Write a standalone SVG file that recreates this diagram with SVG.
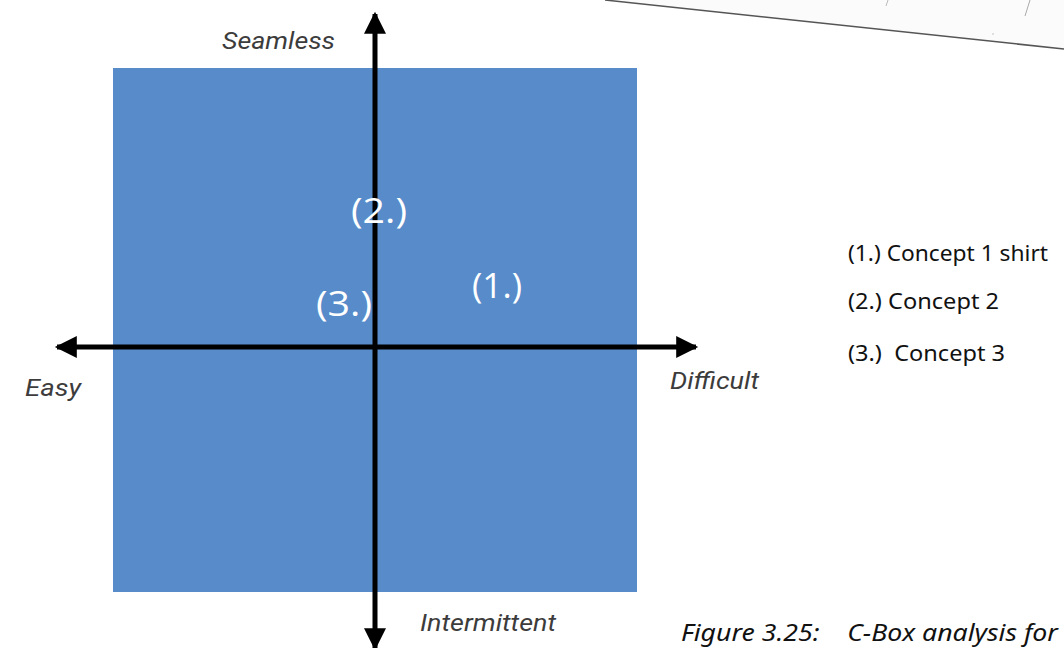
<svg xmlns="http://www.w3.org/2000/svg" width="1064" height="648" viewBox="0 0 1064 648">
  <style>
    .axis { stroke: #000; stroke-width: 5; fill: none; }
    .pole { font-family: Roboto, "Liberation Sans", sans-serif; font-style: italic; font-size: 23px; fill: #3c3c3c; }
    .mark { font-family: "Open Sans", "Liberation Sans", sans-serif; font-size: 34px; fill: #ffffff; }
    .legend { font-family: "Noto Sans", "Liberation Sans", sans-serif; font-size: 21px; fill: #111; }
    .caption { font-family: "Noto Sans", "Liberation Sans", sans-serif; font-style: italic; font-size: 24px; fill: #111; }
  </style>
  <defs>
    <marker id="head" viewBox="0 0 10 10" refX="9" refY="5" markerWidth="5.6" markerHeight="4.4" markerUnits="strokeWidth" orient="auto">
      <path d="M0,0 L10,5 L0,10 Z" fill="#000"/>
    </marker>
  </defs>
  <rect width="1064" height="648" fill="#ffffff"/>

  <!-- page edge in the corner -->
  <g id="page-corner">
    <path d="M605,0 L1064,49 L1064,0 Z" fill="#fbfbfb"/>
    <line x1="605" y1="0" x2="1064" y2="49" stroke="#555" stroke-width="1.5"/>
    <line x1="888" y1="0" x2="886" y2="6" stroke="#bbb" stroke-width="1"/>
    <line x1="1030" y1="0" x2="1025" y2="16" stroke="#aaa" stroke-width="1"/>
    <circle cx="993" cy="34" r="0.8" fill="#bbb"/>
  </g>

  <!-- quadrant field -->
  <g id="field">
    <rect x="113" y="68" width="524" height="524" fill="#578bca"/>
  </g>

  <!-- axes -->
  <g id="connectors">
    <line class="axis" x1="375" y1="347" x2="375" y2="14" marker-end="url(#head)"/>
    <line class="axis" x1="375" y1="347" x2="375" y2="648" marker-end="url(#head)"/>
    <line class="axis" x1="375" y1="347" x2="57" y2="347" marker-end="url(#head)"/>
    <line class="axis" x1="375" y1="347" x2="696" y2="347" marker-end="url(#head)"/>
  </g>

  <!-- axis poles -->
  <g id="seamless"><text class="pole" x="222" y="49" textLength="113" lengthAdjust="spacingAndGlyphs">Seamless</text></g>
  <g id="easy"><text class="pole" x="25" y="396" textLength="56" lengthAdjust="spacingAndGlyphs">Easy</text></g>
  <g id="difficult"><text class="pole" x="670" y="389" textLength="89" lengthAdjust="spacingAndGlyphs">Difficult</text></g>
  <g id="intermittent"><text class="pole" x="420" y="631" textLength="136" lengthAdjust="spacingAndGlyphs">Intermittent</text></g>

  <!-- concept positions -->
  <g id="concept-2"><text class="mark" x="351" y="223" textLength="56" lengthAdjust="spacingAndGlyphs">(2.)</text></g>
  <g id="concept-3"><text class="mark" x="316" y="316" textLength="56" lengthAdjust="spacingAndGlyphs">(3.)</text></g>
  <g id="concept-1"><text class="mark" x="472" y="298" textLength="50" lengthAdjust="spacingAndGlyphs">(1.)</text></g>

  <!-- legend -->
  <g id="legend">
    <text class="legend" x="848" y="261" textLength="200" lengthAdjust="spacingAndGlyphs">(1.) Concept 1 shirt</text>
    <text class="legend" x="848" y="309" textLength="151" lengthAdjust="spacingAndGlyphs">(2.) Concept 2</text>
    <text class="legend" x="848" y="361" textLength="157" lengthAdjust="spacingAndGlyphs" xml:space="preserve">(3.)  Concept 3</text>
  </g>

  <!-- caption -->
  <g id="caption">
    <text class="caption" x="681" y="641" textLength="377" lengthAdjust="spacingAndGlyphs" xml:space="preserve">Figure 3.25:    C-Box analysis for</text>
  </g>
</svg>
